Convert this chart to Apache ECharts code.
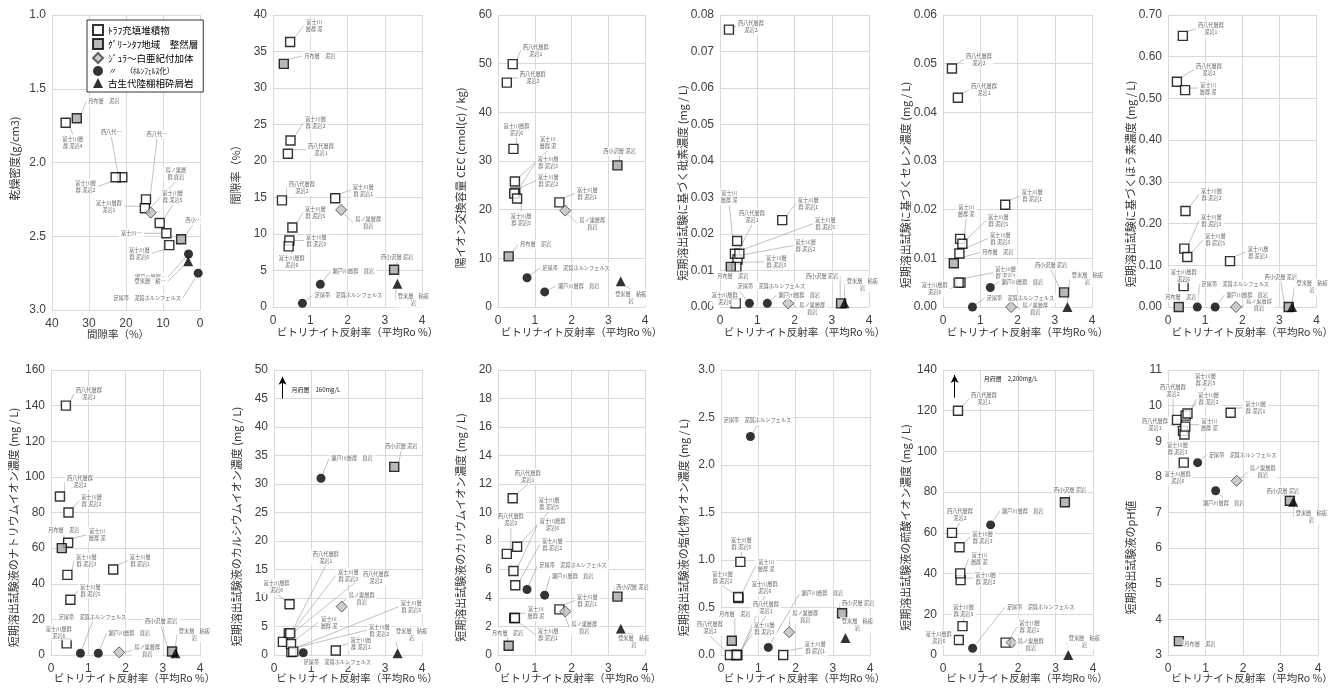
<!DOCTYPE html>
<html><head><meta charset="utf-8">
<script src="https://cdn.jsdelivr.net/npm/echarts@6.0.0/dist/echarts.min.js"></script>
<style>html,body{margin:0;padding:0;background:#fff}#c{width:1335px;height:689px}</style>
</head><body><div id="c"></div>
<script>
// ---------- DATA ----------
const groups = ['ﾄﾗﾌ充填堆積物','ｸﾞﾘｰﾝﾀﾌ地域　整然層','ｼﾞｭﾗ～白亜紀付加体','〃　（ﾎﾙﾝﾌｪﾙｽ化）','古生代陸棚相砕屑岩'];
const sampleLabels = ['西八代層群\n泥岩1','西八代層群\n泥岩2','富士川層\n群 泥岩1','富士川層\n群 泥岩2','富士川層\n群 泥岩3','富士川\n層群 泥','富士川層\n群 泥岩5','富士川層群\n泥岩6','月布層　泥岩','西小沢層 泥岩','鳥ノ巣層群\n頁岩','足尾帯　泥質ホルンフェルス','瀬戸川層群　頁岩','登米層　粘板\n岩'];
const sampleGroup = [0,0,0,0,0,0,0,0,1,1,2,3,3,4];
const ro        = [0.40, 0.24, 1.67, 0.47, 0.44, 0.46, 0.52, 0.42, 0.29, 3.25, 1.83, 0.79, 1.27, 3.34];
const porosity  = [21.0, 14.6, 14.9, 22.8, 9.1, 36.3, 10.9, 8.3, 33.3, 5.1, 13.3, 0.5, 3.1, 3.2];
const density   = [2.10, 2.25, 2.31, 2.10, 2.48, 1.73, 2.41, 2.56, 1.70, 2.52, 2.34, 2.75, 2.62, 2.67];
const cec       = [49.9, 46.1, 21.5, 23.5, 23.3, 25.8, 22.3, 32.5, 10.4, 29.1, 19.8, 6.0, 3.1, 5.3];
const arsenic   = [0.0146, 0.0760, 0.0238, 0.0130, 0.0110, 0.0181, 0.0146, 0.001, 0.0110, 0.001, 0.001, 0.001, 0.001, 0.001];
const selenium  = [0.043, 0.049, 0.021, 0.005, 0.011, 0.014, 0.013, 0.005, 0.009, 0.003, 0, 0, 0.004, 0];
const boron     = [0.65, 0.54, 0.11, 0.23, 0.14, 0.52, 0.12, 0.05, 0, 0, 0, 0, 0, 0];
const sodium    = [140, 89, 48, 80, 45, 63, 31, 6.5, 60, 2, 1.5, 1, 1, 1];
const calcium   = [3.8, 2.3, 0.8, 0.5, 3.8, 1.9, 0.6, 8.9, 160, 33, 8.5, 0.4, 31, 0.3];
const potassium = [11.0, 7.1, 3.2, 4.9, 2.6, 2.6, 7.6, 5.9, 0.65, 4.1, 3.05, 4.6, 4.2, 1.85];
const chloride  = [0, 0, 0, 0.6, 0, 0.61, 0.98, 0, 0.15, 0.44, 0.24, 2.3, 0.08, 0.18];
const sulfate   = [120, 60, 6.1, 36.8, 52.9, 40.1, 14.2, 7.4, 2200, 75, 6.1, 3.3, 63.9, 0];
const pH        = [9.29, 9.6, 9.8, 9.72, 9.19, 9.41, 9.78, 8.4, 3.39, 7.33, 7.89, 8.4, 7.61, 7.3];
const calciumNote = {arrowX: 0.23, from: 45.0, to: 48.8, textX: 0.46, textY: 46.6, text: '月府層　160mg/L'};
const sulfateNote = {arrowX: 0.31, from: 126.4, to: 137.5, textX: 1.07, textY: 135.9, text: '月府層　2,200mg/L'};

const roName = 'ビトリナイト反射率（平均Ro %）';
const panels = [
  {x: porosity, y: density, xName: '間隙率（%）', yName: '乾燥密度(g/cm3)', xMin: 0, xMax: 40, xInt: 10, xInv: true, yMin: 1, yMax: 3, yInt: 0.5, yInv: true, yDec: 1},
  {y: porosity, yName: '間隙率（%）', yMin: 0, yMax: 40, yInt: 5},
  {y: cec, yName: '陽イオン交換容量 CEC (cmol(c) / kg)', yMin: 0, yMax: 60, yInt: 10},
  {y: arsenic, yName: '短期溶出試験に基づく砒素濃度 (mg / L)', yMin: 0, yMax: 0.08, yInt: 0.01, yDec: 2},
  {y: selenium, yName: '短期溶出試験に基づくセレン濃度 (mg / L)', yMin: 0, yMax: 0.06, yInt: 0.01, yDec: 2},
  {y: boron, yName: '短期溶出試験に基づくほう素濃度 (mg / L)', yMin: 0, yMax: 0.7, yInt: 0.1, yDec: 2},
  {y: sodium, yName: '短期溶出試験液のナトリウムイオン濃度 (mg / L)', yMin: 0, yMax: 160, yInt: 20},
  {y: calcium, yName: '短期溶出試験液のカルシウムイオン濃度 (mg / L)', yMin: 0, yMax: 50, yInt: 5, note: calciumNote},
  {y: potassium, yName: '短期溶出試験液のカリウムイオン濃度 (mg / L)', yMin: 0, yMax: 20, yInt: 2},
  {y: chloride, yName: '短期溶出試験液の塩化物イオン濃度 (mg / L)', yMin: 0, yMax: 3, yInt: 0.5, yDec: 1},
  {y: sulfate, yName: '短期溶出試験液の硫酸イオン濃度 (mg / L)', yMin: 0, yMax: 140, yInt: 20, note: sulfateNote},
  {y: pH, yName: '短期溶出試験液のpH値', yMin: 3, yMax: 11, yInt: 1}
];

// ---------- LAYOUT ----------
const gridBoxes = [
  [52,15,148,295],[273,15,149,292],[498,15,147,292],[720,15,149,292],[943,15,149,292],[1168,15,149,292],
  [51,370,149,285],[274,370,148,285],[498,370,147,285],[721,370,149,285],[943,370,150,285],[1168,370,150,285]
];
const yTitleShift = [-4, 11, 17, 22, 24, 23, 15, 14, 15, 15, 15, 45];
const xTitleShift = [-8, 10, 10, 10, 10, 10, 9, 9, 9, 9, 9, 9];
const labelOffsets = [
 [[-11,-45],[11,-65],[-36,-2],[-30,9],[-35,0],[7,20],[13,-26],[-30,8],[27,-17],[12,-19],[25,-39],[-51,25],[-38,23],[-38,20]],
 [[33,-4],[20,-13],[28,-8],[25,-18],[27,0],[24,-16],[23,-15],[3,15],[36,-8],[3,-13],[27,13],[46,-8],[33,-13],[16,16]],
 [[23,-14],[26,-5],[28,-9],[33,-12],[34,-31],[33,-39],[4,21],[3,-19],[27,-12],[2,-14],[27,13],[49,-10],[34,-6],[10,16]],
 [[17,-37],[22,-3],[26,-17],[68,-14],[40,-5],[-8,-44],[86,-30],[-11,-5],[2,9],[-19,-27],[24,5],[22,-17],[32,-8],[18,-19]],
 [[26,-8],[27,-9],[27,-9],[45,-10],[41,-15],[6,-28],[36,-23],[-24,6],[44,-11],[-13,-27],[24,2],[48,-9],[32,-6],[20,-28]],
 [[28,-7],[32,-12],[28,-9],[26,-17],[27,-28],[23,-2],[28,-17],[0,-11],[2,-10],[-8,-30],[23,-2],[38,-23],[32,-12],[20,-20]],
 [[23,-12],[20,-15],[27,-9],[23,-12],[19,-14],[29,-8],[20,-9],[-8,-11],[2,-18],[-11,-30],[28,-2],[12,-36],[31,-20],[19,-19]],
 [[37,-76],[93,-64],[25,-7],[88,-22],[58,-58],[38,-22],[118,-45],[-13,-18],null,[7,-21],[20,-8],[34,9],[31,-20],[14,-19]],
 [[15,-22],[4,-34],[28,-9],[37,-41],[34,17],[21,-5],[32,-43],[39,-46],[-1,-13],[15,-10],[19,16],[46,-24],[28,-19],[13,13]],
 [[30,-47],[-20,-27],[32,-7],[-16,-20],[27,-26],[28,-32],[1,-18],[28,-67],[3,-27],[16,-10],[16,-16],[7,-16],[54,-54],[12,-13]],
 [[26,-12],[8,-18],[24,-16],[25,-2],[23,-10],[19,-15],[1,-16],[-20,-2],null,[5,-12],[19,2],[68,-41],[32,-14],[16,-13]],
 [[-28,-6],[-4,-29],[25,-5],[23,-17],[-7,14],[24,-2],[18,-34],[-6,15],[21,3],[-7,-10],[26,-9],[45,-8],[8,12],[18,15]]
];
const labelTextOverride = {
  0: {0:'西八代…',1:'西八代…',2:'富士川層群\n泥岩1',4:'富士川…',5:'富士川層\n群 泥岩4',7:'富士川層\n群 泥岩6',9:'西小…',10:'鳥ノ巣層\n群 頁岩',12:'瀬戸川層群…',13:'登米層　粘…'},
  8: {4:'富士川層\n群 泥岩1'}
};
const groupStyle = [
  {symbol:'rect', size:9, itemStyle:{color:'#ffffff', borderColor:'#000', borderWidth:1.4}},
  {symbol:'rect', size:9, itemStyle:{color:'#a6a6a6', borderColor:'#000', borderWidth:1.4}},
  {symbol:'diamond', size:11, itemStyle:{color:'#bfbfbf', borderColor:'#404040', borderWidth:1}},
  {symbol:'circle', size:9, itemStyle:{color:'#000'}},
  {symbol:'triangle', size:10, itemStyle:{color:'#000'}}
];
const JP = '"Noto Sans CJK JP", "Noto Sans", sans-serif';
const NUM = '"Liberation Sans", Arial, sans-serif';
const GRID_C = '#d9d9d9';

function padX(s){ return s >= 0 ? [0,0,0,2*s] : [0,-2*s,0,0]; }
function padY(s){ return s >= 0 ? [0,2*s,0,0] : [0,0,0,-2*s]; }

const grids = [], xAxes = [], yAxes = [], series = [];
const offsetLookup = {};
panels.forEach((p, pi) => {
  const b = gridBoxes[pi];
  const top = b[1] < 100;
  grids.push({left:b[0], top:b[1], width:b[2], height:b[3], containLabel:false, show:false});
  xAxes.push({
    gridIndex: pi, type: 'value',
    min: p.xMin != null ? p.xMin : 0, max: p.xMax != null ? p.xMax : 4, interval: p.xInt || 1, inverse: !!p.xInv,
    name: p.xName || roName, nameLocation: 'middle', nameGap: pi === 0 ? 19 : (top ? 20 : 18), nameMoveOverlap: false,
    nameTextStyle: {fontSize: 10.5, color: '#333', fontFamily: JP, padding: padX(xTitleShift[pi])},
    axisLine: {show: true, onZero: false, lineStyle: {color: GRID_C}},
    axisTick: {show: false},
    axisLabel: {margin: 8, fontSize: 12, color: '#404040', fontFamily: NUM},
    splitLine: {show: true, lineStyle: {color: GRID_C, width: 1}}
  });
  yAxes.push({
    gridIndex: pi, type: 'value', min: p.yMin, max: p.yMax, interval: p.yInt, inverse: !!p.yInv,
    name: p.yName, nameLocation: 'middle', nameGap: 32, nameRotate: 90, nameMoveOverlap: false,
    nameTextStyle: {fontSize: 11, color: '#333', fontFamily: JP, padding: padY(yTitleShift[pi])},
    axisLine: {show: true, onZero: false, lineStyle: {color: GRID_C}},
    axisTick: {show: false},
    axisLabel: {margin: 6, fontSize: 12, color: '#404040', fontFamily: NUM,
      formatter: p.yDec != null ? (v => v.toFixed(p.yDec)) : (v => String(v))},
    splitLine: {show: true, lineStyle: {color: GRID_C, width: 1}}
  });
  const xs = p.x || ro;
  groups.forEach((g, gi) => {
    const idx = [];
    sampleGroup.forEach((sg, si) => { if (sg === gi) idx.push(si); });
    const sIndex = series.length;
    offsetLookup[sIndex] = idx.map(si => labelOffsets[pi][si]);
    const gs = groupStyle[gi];
    const s = {
      type: 'scatter', name: g, xAxisIndex: pi, yAxisIndex: pi,
      symbol: gs.symbol, symbolSize: gs.size, itemStyle: gs.itemStyle,
      clip: true, animation: false, silent: true,
      data: idx.map(si => {
        const ov = labelTextOverride[pi] && labelTextOverride[pi][si];
        const has = labelOffsets[pi][si] != null;
        return {value: [xs[si], p.y[si]], label: {show: has, formatter: ov || sampleLabels[si]}};
      }),
      label: {show: true, position: 'inside', fontSize: 5.2, lineHeight: 7, color: '#3a3a3a', fontFamily: JP,
        backgroundColor: '#ffffff', padding: [1, 2], textBorderWidth: 0, align: 'center', verticalAlign: 'middle'},
      labelLine: {show: true, lineStyle: {color: '#a6a6a6', width: 0.7}},
      labelLayout: function (params) {
        const o = offsetLookup[sIndex][params.dataIndex];
        return o ? {dx: o[0], dy: o[1]} : {};
      }
    };
    if (p.note && gi === 1) {
      const n = p.note;
      s.markLine = {
        silent: true, animation: false, symbol: ['none', 'arrow'], symbolSize: [6, 8],
        lineStyle: {color: '#000', width: 1, type: 'solid'}, label: {show: false},
        data: [[{coord: [n.arrowX, n.from]}, {coord: [n.arrowX, n.to]}]]
      };
      s.markPoint = {
        silent: true, animation: false,
        data: [{coord: [n.textX, n.textY], symbol: 'circle', symbolSize: 1, itemStyle: {color: 'rgba(0,0,0,0)'},
          label: {show: true, position: 'right', distance: 0, formatter: n.text, fontSize: 6, color: '#222', fontFamily: JP}}]
      };
    }
    series.push(s);
  });
});

const chart = echarts.init(document.getElementById('c'), null, {renderer: 'canvas'});
chart.setOption({
  animation: false,
  backgroundColor: '#ffffff',
  textStyle: {fontFamily: JP},
  grid: grids, xAxis: xAxes, yAxis: yAxes, series: series,
  legend: {
    data: groups, left: 87, top: 20, orient: 'vertical', selectedMode: false,
    itemWidth: 10, itemHeight: 10, itemGap: 2, padding: [4, 5, 4, 5],
    backgroundColor: '#ffffff', borderColor: '#000', borderWidth: 0.8, borderRadius: 0,
    textStyle: {fontSize: 9.5, color: '#000', fontFamily: JP,
      rich: {a: {fontSize: 8, color: '#000', fontStyle: 'italic'}, b: {fontSize: 7.5, color: '#000'}}},
    formatter: name => name === groups[3] ? '{a|〃}　{b|（ﾎﾙﾝﾌｪﾙｽ化）}' : name
  }
});
</script></body></html>
